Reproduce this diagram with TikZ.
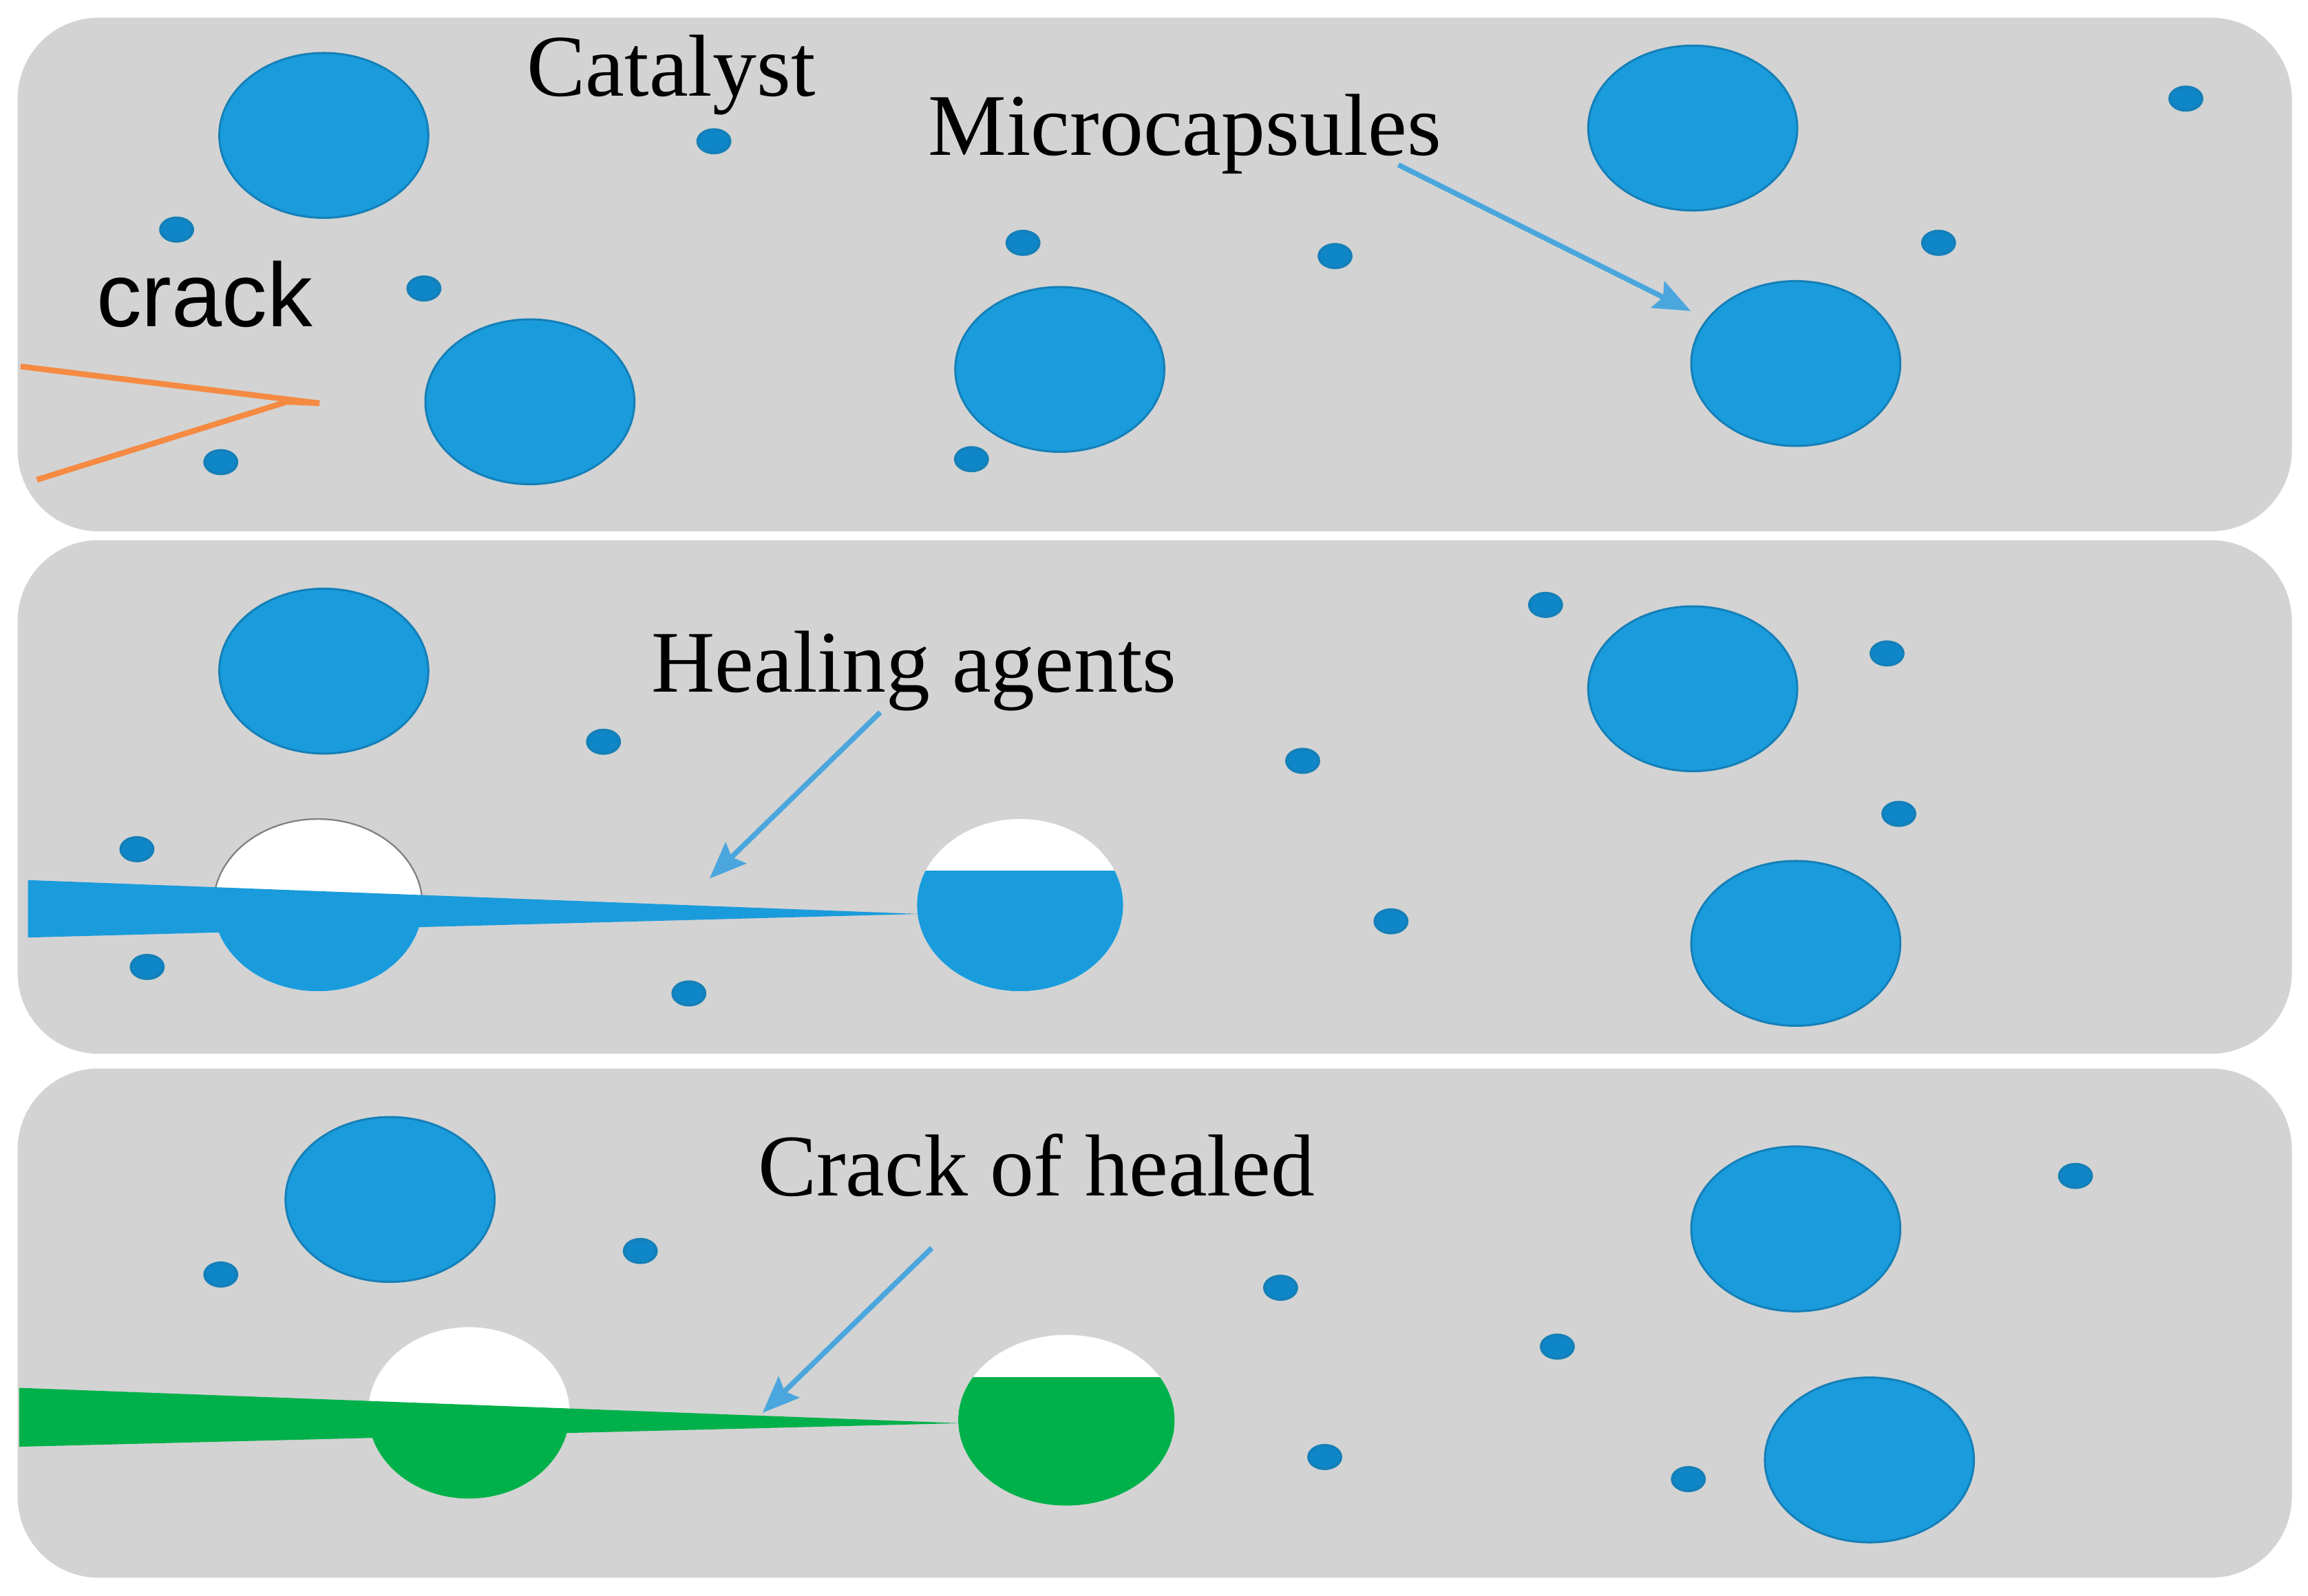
\documentclass[tikz,border=0pt]{standalone}
\usepackage{fontspec}
\setmainfont{Liberation Serif}
\newfontfamily\labelsans{Liberation Sans}
\usetikzlibrary{shapes.geometric,arrows.meta}
\definecolor{matrixgray}{HTML}{D3D3D3}
\definecolor{capblue}{HTML}{1A9BDC}
\definecolor{capedge}{HTML}{1480B8}
\definecolor{catblue}{HTML}{0F86C8}
\definecolor{arrowblue}{HTML}{4BA6DE}
\definecolor{healgreen}{HTML}{00B04A}
\definecolor{crackorange}{HTML}{F58A42}
\tikzstyle{arrow} = [-{Stealth[length=0.25cm,width=0.2cm,inset=0.04cm]},arrowblue,line width=1pt]
\tikzstyle{panel} = [draw=none,fill=matrixgray,rounded corners=0.55cm,minimum width=15.45cm,inner sep=0pt]
\tikzstyle{capsule} = [ellipse,draw=capedge,fill=capblue,line width=0.4pt,minimum width=1.42cm,minimum height=1.12cm,inner sep=0pt]
\tikzstyle{catalyst} = [ellipse,draw=capedge,fill=catblue,line width=0.5pt,minimum width=0.22cm,minimum height=0.16cm,inner sep=0pt]
\tikzstyle{broken} = [ellipse,draw=none,fill=white,inner sep=0pt,outer sep=0pt]
\tikzstyle{tag} = [font=\fontsize{17}{20}\selectfont,inner sep=0pt,text=black]
\begin{document}
\begin{tikzpicture}
        \useasboundingbox (0,0) rectangle (15.68,10.84);
        \node[panel, minimum height=3.49cm] at (7.845,8.975) (top) {};
        \node[panel, minimum height=3.49cm] at (7.845,5.425) (mid) {};
        \node[panel, minimum height=3.46cm] at (7.845,1.85) (bot) {};

        % first panel
        \node[capsule] at (2.20,9.92) (A1) {};
        \node[capsule] at (3.60,8.11) (A2) {};
        \node[capsule] at (7.20,8.33) (A3) {};
        \node[capsule] at (11.50,9.97) (A4) {};
        \node[capsule] at (12.20,8.37) (A5) {};
        \node[catalyst] at (4.85,9.88) (a1) {};
        \node[catalyst] at (1.20,9.28) (a2) {};
        \node[catalyst] at (2.88,8.88) (a3) {};
        \node[catalyst] at (1.50,7.70) (a4) {};
        \node[catalyst] at (6.95,9.19) (a5) {};
        \node[catalyst] at (6.60,7.72) (a6) {};
        \node[catalyst] at (9.07,9.10) (a7) {};
        \node[catalyst] at (13.17,9.19) (a8) {};
        \node[catalyst] at (14.85,10.17) (a9) {};
        \node[tag] at (4.56,10.33) (catalystTag) {Catalyst};
        \node[tag] at (8.05,9.93) (microTag) {Microcapsules};
        \node[tag, font=\labelsans\fontsize{17.5}{20}\selectfont] at (1.39,8.84) (crackTag) {crack};
        \coordinate (microStart) at (9.50,9.72);
        \draw[arrow, shorten >=0.12cm] (microStart) -- (A5);
        \coordinate (openL) at (0.14,8.35);
        \coordinate (openR) at (0.25,7.58);
        \coordinate (tip) at (2.17,8.10);
        \coordinate (join) at (1.95,8.11);
        \draw[crackorange, line width=1.1pt] (openL) -- (tip);
        \draw[crackorange, line width=1.1pt] (openR) -- (join) -- (tip);

        % second panel
        \node[capsule] at (2.20,6.28) (B1) {};
        \node[capsule] at (11.50,6.16) (B2) {};
        \node[capsule] at (12.20,4.43) (B3) {};
        \node[catalyst] at (10.50,6.73) (b1) {};
        \node[catalyst] at (12.82,6.40) (b2) {};
        \node[catalyst] at (4.10,5.80) (b3) {};
        \node[catalyst] at (8.85,5.67) (b4) {};
        \node[catalyst] at (12.90,5.31) (b5) {};
        \node[catalyst] at (0.93,5.07) (b6) {};
        \node[catalyst] at (1.00,4.27) (b7) {};
        \node[catalyst] at (4.68,4.09) (b8) {};
        \node[catalyst] at (9.45,4.58) (b9) {};
        \node[broken, minimum width=1.42cm, minimum height=1.17cm] at (2.16,4.69) (B4) {};
        \node[broken, minimum width=1.40cm, minimum height=1.17cm] at (6.93,4.69) (B5) {};
        \draw[gray, line width=0.3pt] (B4.west) arc[start angle=180, end angle=0, x radius=0.71, y radius=0.585];
        \begin{scope}
            \clip (1.40,4.70) rectangle (2.92,4.00);
            \fill[capblue] (2.16,4.69) ellipse (0.71 and 0.585);
        \end{scope}
        \begin{scope}
            \clip (6.20,4.92) rectangle (7.66,4.00);
            \fill[capblue] (6.93,4.69) ellipse (0.70 and 0.585);
        \end{scope}
        \coordinate (healA) at (0.19,4.86);
        \coordinate (healB) at (0.19,4.47);
        \coordinate (healTip) at (6.24,4.63);
        \fill[capblue] (healA) -- (healTip) -- (healB) -- cycle;
        \node[tag] at (6.21,6.28) (healTag) {Healing agents};
        \coordinate (healStart) at (5.98,6.00);
        \coordinate (healEnd) at (4.82,4.87);
        \draw[arrow] (healStart) -- (healEnd);

        % third panel
        \node[capsule] at (2.65,2.69) (C1) {};
        \node[capsule] at (12.20,2.49) (C2) {};
        \node[capsule] at (12.70,0.92) (C3) {};
        \node[catalyst] at (1.50,2.18) (c1) {};
        \node[catalyst] at (4.35,2.34) (c2) {};
        \node[catalyst] at (8.70,2.09) (c3) {};
        \node[catalyst] at (14.10,2.85) (c4) {};
        \node[catalyst] at (10.58,1.69) (c5) {};
        \node[catalyst] at (9.00,0.94) (c6) {};
        \node[catalyst] at (11.47,0.79) (c7) {};
        \node[broken, minimum width=1.37cm, minimum height=1.165cm] at (3.185,1.24) (C4) {};
        \node[broken, minimum width=1.47cm, minimum height=1.16cm] at (7.245,1.19) (C5) {};
        \begin{scope}
            \clip (2.40,1.20) rectangle (3.95,0.50);
            \fill[healgreen] (3.185,1.24) ellipse (0.685 and 0.5825);
        \end{scope}
        \begin{scope}
            \clip (6.45,1.48) rectangle (8.05,0.50);
            \fill[healgreen] (7.245,1.19) ellipse (0.735 and 0.58);
        \end{scope}
        \coordinate (fillA) at (0.13,1.41);
        \coordinate (fillB) at (0.13,1.01);
        \coordinate (fillTip) at (6.52,1.17);
        \fill[healgreen] (fillA) -- (fillTip) -- (fillB) -- cycle;
        \node[tag] at (7.04,2.92) (healedTag) {Crack of healed};
        \coordinate (healedStart) at (6.33,2.36);
        \coordinate (healedEnd) at (5.18,1.24);
        \draw[arrow] (healedStart) -- (healedEnd);
    \end{tikzpicture}
\end{document}
